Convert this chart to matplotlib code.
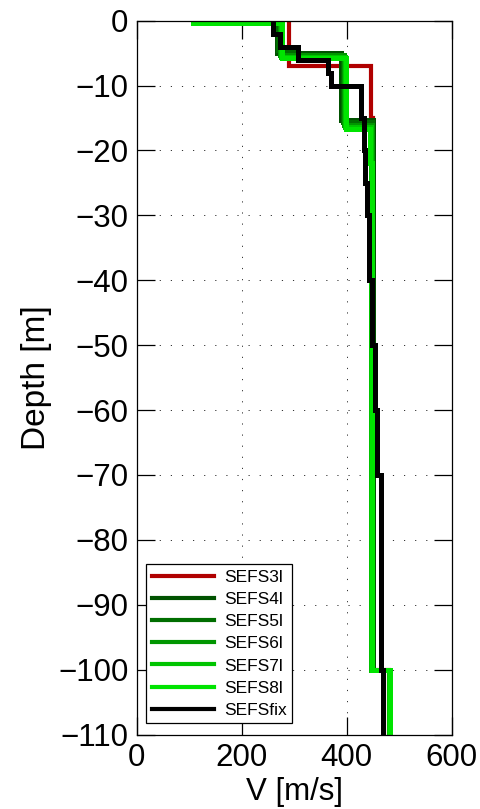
import numpy as np
import matplotlib
matplotlib.use("Agg")
import matplotlib.pyplot as plt

plt.rcParams['font.family'] = ['Liberation Sans', 'DejaVu Sans']

# Layered shear-wave velocity models: layer top depths [m] and velocities [m/s]
max_depth = 110

sefs3l_tops = [0, 7, 15, 100]
sefs3l_vs = [290, 447, 450, 480]

sefs4l_tops = [0, 0.3, 5.0, 15.3, 100]
sefs4l_vs = [250, 268, 390, 450, 480]

sefs5l_tops = [0, 0.3, 4.5, 5.5, 15.6, 100]
sefs5l_vs = [255, 270, 300, 392, 449, 480]

sefs6l_tops = [0, 0.3, 5.3, 16.0, 100]
sefs6l_vs = [240, 272, 394, 448, 481]

sefs7l_tops = [0, 0.3, 5.6, 16.4, 100]
sefs7l_vs = [228, 274, 397, 447, 481]

sefs8l_tops = [0, 0.3, 5.8, 16.7, 22, 100]
sefs8l_vs = [108, 276, 399, 444, 449, 482]

sefsfix_tops = [0, 2, 4, 6, 8, 10, 15, 20, 25, 30, 40, 50, 60, 70, 100]
sefsfix_vs = [260, 273, 308, 365, 370, 428, 432, 434, 438, 442, 448, 453, 458, 465, 470]

labels = ['SEFS3l', 'SEFS4l', 'SEFS5l', 'SEFS6l', 'SEFS7l', 'SEFS8l', 'SEFSfix']
colors = ['#b00000', '#005200', '#006e00', '#009600', '#00c400', '#00e400', '#000000']
profiles = [
    (sefs3l_tops, sefs3l_vs),
    (sefs4l_tops, sefs4l_vs),
    (sefs5l_tops, sefs5l_vs),
    (sefs6l_tops, sefs6l_vs),
    (sefs7l_tops, sefs7l_vs),
    (sefs8l_tops, sefs8l_vs),
    (sefsfix_tops, sefsfix_vs),
]
widths = [3.0, 3.6, 3.6, 3.6, 3.6, 3.6, 3.6]


def staircase(tops, vs):
    """Return (velocity, depth) vertices of a layered profile drawn as steps."""
    bounds = list(tops) + [max_depth]
    v = np.repeat(vs, 2)
    z = np.array([[bounds[i], bounds[i + 1]] for i in range(len(vs))]).ravel()
    return v, -z


fig = plt.figure(figsize=(4.8, 8.09), dpi=100)
ax = fig.add_axes([136.7 / 480, (809 - 734.5) / 809, 315 / 480, 713.8 / 809])

for (tops, vs), lab, col, lw in zip(profiles, labels, colors, widths):
    v, z = staircase(tops, vs)
    ax.plot(v, z, color=col, lw=lw, label=lab, solid_joinstyle='miter')

ax.set_xlim(0, 600)
ax.set_ylim(-110, 0)
ax.set_xticks([0, 200, 400, 600])
ax.set_yticks(np.arange(-110, 1, 10))

ax.grid(True, color='#222222', linestyle=(0, (1.3, 11)), linewidth=0.65)
ax.tick_params(direction='in', length=13, width=0.9, top=True, right=True,
               labelsize=22.5, pad=6)
for s in ax.spines.values():
    s.set_linewidth(0.9)

ax.set_xlabel('V [m/s]', fontsize=22.5, labelpad=3)
ax.set_ylabel('Depth [m]', fontsize=24, labelpad=4)

leg = ax.legend(loc='lower left', bbox_to_anchor=(0.0305, 0.0157),
                borderaxespad=0, fontsize=12.5, handlelength=3.6,
                handletextpad=0.55, labelspacing=0.4, borderpad=0.32,
                fancybox=False, framealpha=1, edgecolor='black')
leg.get_frame().set_linewidth(0.9)
for h in leg.get_lines():
    h.set_linewidth(3.0)

fig.savefig('out.png', dpi=100)
